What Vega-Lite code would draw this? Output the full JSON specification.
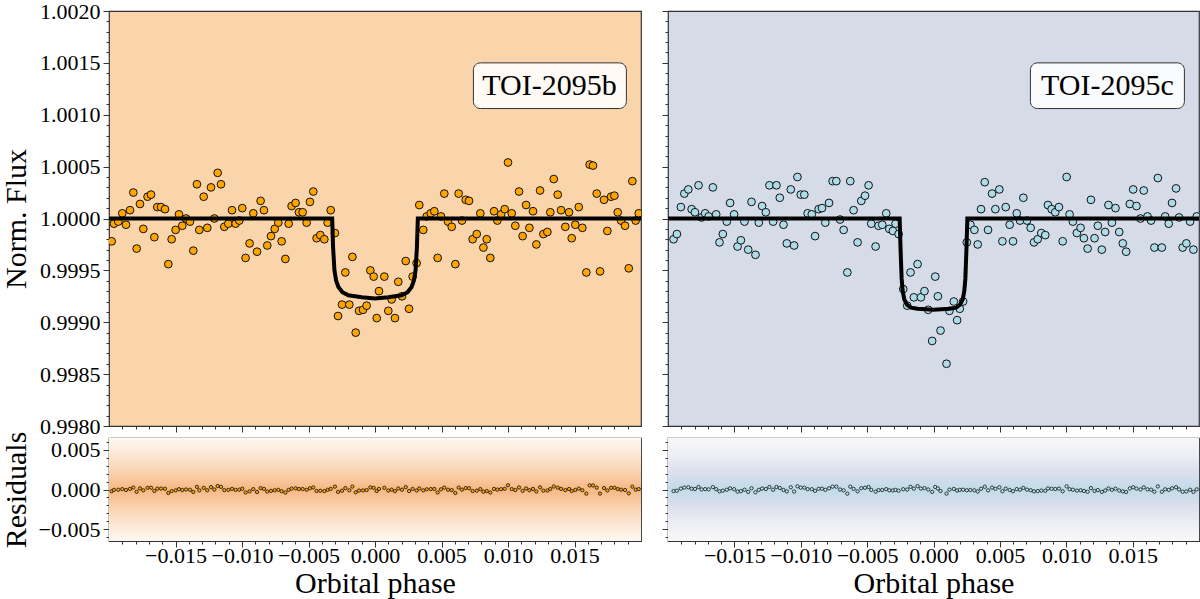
{
"$schema": "https://vega.github.io/schema/vega-lite/v6.json",
"padding": {"left": 0, "top": -1, "right": 0, "bottom": 0},
"background": "white",
"config": {
 "font": "Liberation Serif",
 "view": {"stroke": "#333", "strokeWidth": 1.2},
 "axis": {"labelFont": "Liberation Serif", "labelFontSize": 22, "labelColor": "black", "titleFont": "Liberation Serif", "titleFontSize": 30, "titleFontWeight": "normal", "titleColor": "black", "tickColor": "#333", "tickWidth": 1, "domain": false, "grid": false, "labelOverlap": false, "labelFlush": false, "labelPadding": 3}
},
"datasets": {
 "b": [
{"p":-0.0198,"f":0.99978,"r":-0.00022},{"p":-0.01963,"f":0.99995,"r":-0.00005},{"p":-0.0193,"f":0.99997,"r":-0.00003},{"p":-0.019,"f":1.00005,"r":0.00005},{"p":-0.01872,"f":0.99994,"r":-0.00006},{"p":-0.01842,"f":1.00008,"r":0.00008},{"p":-0.01817,"f":1.00025,"r":0.00025},{"p":-0.01792,"f":0.99971,"r":-0.00029},{"p":-0.01767,"f":1.00014,"r":0.00014},{"p":-0.01742,"f":0.9999,"r":-0.0001},
{"p":-0.0171,"f":1.00021,"r":0.00021},{"p":-0.01684,"f":1.00023,"r":0.00023},{"p":-0.01659,"f":0.99982,"r":-0.00018},{"p":-0.01637,"f":1.00011,"r":0.00011},{"p":-0.01609,"f":1.00011,"r":0.00011},{"p":-0.01579,"f":1.00009,"r":0.00009},{"p":-0.01554,"f":0.99956,"r":-0.00044},{"p":-0.01529,"f":0.9998,"r":-0.0002},{"p":-0.01499,"f":0.99989,"r":-0.00011},{"p":-0.01474,"f":1.00004,"r":0.00004},
{"p":-0.01449,"f":0.99993,"r":-0.00007},{"p":-0.01421,"f":1.0,"r":0.0},{"p":-0.01391,"f":0.99997,"r":-0.00003},{"p":-0.01366,"f":0.99969,"r":-0.00031},{"p":-0.01339,"f":1.00033,"r":0.00033},{"p":-0.01321,"f":0.99989,"r":-0.00011},{"p":-0.01288,"f":1.00021,"r":0.00021},{"p":-0.01261,"f":0.99991,"r":-0.00009},{"p":-0.01233,"f":1.0003,"r":0.0003},{"p":-0.01208,"f":1.0,"r":0.0},
{"p":-0.01183,"f":1.00044,"r":0.00044},{"p":-0.01158,"f":1.00033,"r":0.00033},{"p":-0.01133,"f":0.99992,"r":-0.00008},{"p":-0.01103,"f":0.99995,"r":-0.00005},{"p":-0.01075,"f":1.00008,"r":0.00008},{"p":-0.01048,"f":0.99995,"r":-0.00005},{"p":-0.0102,"f":0.99998,"r":-0.00002},{"p":-0.00998,"f":1.0001,"r":0.0001},{"p":-0.00973,"f":0.99962,"r":-0.00038},{"p":-0.00943,"f":0.99976,"r":-0.00024},
{"p":-0.00915,"f":1.00005,"r":0.00005},{"p":-0.00887,"f":0.99968,"r":-0.00032},{"p":-0.0086,"f":1.00017,"r":0.00017},{"p":-0.00835,"f":1.00008,"r":0.00008},{"p":-0.0081,"f":0.99974,"r":-0.00026},{"p":-0.00782,"f":0.99983,"r":-0.00017},{"p":-0.00754,"f":0.9999,"r":-0.0001},{"p":-0.00727,"f":0.99996,"r":-0.00004},{"p":-0.00702,"f":0.99978,"r":-0.00022},{"p":-0.00674,"f":0.99961,"r":-0.00039},
{"p":-0.00649,"f":0.99995,"r":-0.00005},{"p":-0.00627,"f":1.00012,"r":0.00012},{"p":-0.00597,"f":1.00015,"r":0.00015},{"p":-0.00572,"f":1.00006,"r":0.00006},{"p":-0.00544,"f":1.00006,"r":0.00006},{"p":-0.00514,"f":0.99996,"r":-0.00004},{"p":-0.00489,"f":1.00016,"r":0.00016},{"p":-0.00464,"f":1.00026,"r":0.00026},{"p":-0.00439,"f":0.99981,"r":-0.00019},{"p":-0.00411,"f":0.99984,"r":-0.00016},
{"p":-0.00381,"f":0.9998,"r":-0.0002},{"p":-0.00356,"f":0.99996,"r":-0.00004},{"p":-0.00333,"f":1.00008,"r":0.00008},{"p":-0.00301,"f":0.99986,"r":0.00036},{"p":-0.00278,"f":0.99906,"r":-0.0003},{"p":-0.00248,"f":0.99917,"r":-0.00016},{"p":-0.00223,"f":0.99948,"r":0.00018},{"p":-0.00193,"f":0.99917,"r":-0.0001},{"p":-0.0017,"f":0.99963,"r":0.00037},{"p":-0.00145,"f":0.9989,"r":-0.00035},
{"p":-0.0012,"f":0.99911,"r":-0.00013},{"p":-0.0009,"f":0.99912,"r":-0.00012},{"p":-0.00063,"f":0.99916,"r":-0.00007},{"p":-0.00035,"f":0.9995,"r":0.00027},{"p":-0.0001,"f":0.99944,"r":0.00021},{"p":0.00013,"f":0.99904,"r":-0.00019},{"p":0.0003,"f":0.9993,"r":0.00007},{"p":0.0007,"f":0.99944,"r":0.00021},{"p":0.001,"f":0.99911,"r":-0.00013},{"p":0.00125,"f":0.99922,"r":-0.00002},
{"p":0.0015,"f":0.99904,"r":-0.00021},{"p":0.00175,"f":0.99939,"r":0.00013},{"p":0.00203,"f":0.99925,"r":-0.00003},{"p":0.00231,"f":0.99959,"r":0.0003},{"p":0.00256,"f":0.99913,"r":-0.00019},{"p":0.00283,"f":0.99944,"r":0.00007},{"p":0.00313,"f":0.99957,"r":-0.00013},{"p":0.00333,"f":1.00013,"r":0.00013},{"p":0.00363,"f":0.99989,"r":-0.00011},{"p":0.00389,"f":1.00002,"r":0.00002},
{"p":0.00419,"f":1.00005,"r":0.00005},{"p":0.00446,"f":1.00007,"r":0.00007},{"p":0.00471,"f":0.99962,"r":-0.00038},{"p":0.00496,"f":1.00002,"r":0.00002},{"p":0.00521,"f":1.00024,"r":0.00024},{"p":0.00549,"f":0.99997,"r":-0.00003},{"p":0.00577,"f":0.99992,"r":-0.00008},{"p":0.00604,"f":0.99956,"r":-0.00044},{"p":0.00629,"f":1.00024,"r":0.00024},{"p":0.00654,"f":0.99998,"r":-0.00002},
{"p":0.00682,"f":1.00018,"r":0.00018},{"p":0.00707,"f":1.00017,"r":0.00017},{"p":0.00734,"f":0.9998,"r":-0.0002},{"p":0.00765,"f":0.99985,"r":-0.00015},{"p":0.00792,"f":1.00005,"r":0.00005},{"p":0.00815,"f":0.99972,"r":-0.00028},{"p":0.0084,"f":0.9998,"r":-0.0002},{"p":0.00867,"f":0.99962,"r":-0.00038},{"p":0.00895,"f":1.00007,"r":0.00007},{"p":0.0092,"f":0.99998,"r":-0.00002},
{"p":0.00948,"f":1.00004,"r":0.00004},{"p":0.00975,"f":1.00009,"r":0.00009},{"p":0.01,"f":1.00054,"r":0.00054},{"p":0.01028,"f":1.00005,"r":0.00005},{"p":0.01055,"f":0.99993,"r":-0.00007},{"p":0.01083,"f":1.00026,"r":0.00026},{"p":0.0111,"f":0.99983,"r":-0.00017},{"p":0.01136,"f":1.00013,"r":0.00013},{"p":0.01161,"f":0.99991,"r":-0.00009},{"p":0.01188,"f":1.00007,"r":0.00007},
{"p":0.01213,"f":0.99975,"r":-0.00025},{"p":0.01241,"f":1.00027,"r":0.00027},{"p":0.01266,"f":0.99985,"r":-0.00015},{"p":0.01296,"f":0.99987,"r":-0.00013},{"p":0.01318,"f":1.00006,"r":0.00006},{"p":0.01344,"f":1.00038,"r":0.00038},{"p":0.01374,"f":1.00023,"r":0.00023},{"p":0.01399,"f":1.00008,"r":0.00008},{"p":0.01431,"f":0.99992,"r":-0.00008},{"p":0.01459,"f":1.00006,"r":0.00006},
{"p":0.01479,"f":0.99981,"r":-0.00019},{"p":0.01506,"f":0.99994,"r":-0.00006},{"p":0.01532,"f":1.00011,"r":0.00011},{"p":0.01559,"f":0.99991,"r":-0.00009},{"p":0.01589,"f":0.99948,"r":-0.00052},{"p":0.01614,"f":1.00052,"r":0.00052},{"p":0.01639,"f":1.00051,"r":0.00051},{"p":0.01667,"f":1.00024,"r":0.00024},{"p":0.01692,"f":0.99949,"r":-0.00051},{"p":0.01722,"f":1.00018,"r":0.00018},
{"p":0.01747,"f":0.99988,"r":-0.00012},{"p":0.01775,"f":1.00021,"r":0.00021},{"p":0.018,"f":1.00022,"r":0.00022},{"p":0.01825,"f":1.00006,"r":0.00006},{"p":0.0185,"f":0.99998,"r":-0.00002},{"p":0.0188,"f":0.99993,"r":-0.00007},{"p":0.01908,"f":0.99952,"r":-0.00048},{"p":0.01935,"f":1.00036,"r":0.00036},{"p":0.0196,"f":0.99998,"r":-0.00002},{"p":0.01983,"f":1.00005,"r":0.00005}
 ],
 "c": [
{"p":-0.01958,"f":0.9998,"r":-0.0002},{"p":-0.01933,"f":0.99985,"r":-0.00015},{"p":-0.01903,"f":1.00011,"r":0.00011},{"p":-0.01877,"f":1.00024,"r":0.00024},{"p":-0.01847,"f":1.00028,"r":0.00028},{"p":-0.01822,"f":1.00009,"r":0.00009},{"p":-0.01797,"f":1.00006,"r":0.00006},{"p":-0.0177,"f":1.00032,"r":0.00032},{"p":-0.01747,"f":1.00001,"r":0.00001},{"p":-0.0172,"f":1.00005,"r":0.00005},
{"p":-0.01694,"f":1.00002,"r":0.00002},{"p":-0.01662,"f":1.0003,"r":0.0003},{"p":-0.01637,"f":1.00004,"r":0.00004},{"p":-0.01612,"f":0.99977,"r":-0.00023},{"p":-0.01587,"f":0.99985,"r":-0.00015},{"p":-0.01557,"f":0.99997,"r":-0.00003},{"p":-0.01532,"f":1.00015,"r":0.00015},{"p":-0.01502,"f":1.00004,"r":0.00004},{"p":-0.01476,"f":0.99973,"r":-0.00027},{"p":-0.01451,"f":0.99979,"r":-0.00021},
{"p":-0.01424,"f":0.99997,"r":-0.00003},{"p":-0.01396,"f":0.9997,"r":-0.0003},{"p":-0.01371,"f":1.00016,"r":0.00016},{"p":-0.01341,"f":0.99965,"r":-0.00035},{"p":-0.01316,"f":0.99996,"r":-0.00004},{"p":-0.01291,"f":1.00012,"r":0.00012},{"p":-0.01263,"f":1.00006,"r":0.00006},{"p":-0.01236,"f":1.00032,"r":0.00032},{"p":-0.01208,"f":0.99997,"r":-0.00003},{"p":-0.01183,"f":1.00032,"r":0.00032},
{"p":-0.01158,"f":1.0002,"r":0.0002},{"p":-0.0113,"f":0.99994,"r":-0.00006},{"p":-0.01105,"f":0.99976,"r":-0.00024},{"p":-0.01075,"f":1.00028,"r":0.00028},{"p":-0.0105,"f":0.99974,"r":-0.00026},{"p":-0.01025,"f":1.0004,"r":0.0004},{"p":-0.01,"f":1.00023,"r":0.00023},{"p":-0.00973,"f":1.00023,"r":0.00023},{"p":-0.00948,"f":1.00005,"r":0.00005},{"p":-0.00917,"f":1.00004,"r":0.00004},
{"p":-0.00892,"f":0.99983,"r":-0.00017},{"p":-0.00865,"f":1.00009,"r":0.00009},{"p":-0.0084,"f":1.0001,"r":0.0001},{"p":-0.00815,"f":0.99996,"r":-0.00004},{"p":-0.00787,"f":1.00015,"r":0.00015},{"p":-0.0076,"f":1.00036,"r":0.00036},{"p":-0.00732,"f":1.00036,"r":0.00036},{"p":-0.00704,"f":0.99999,"r":-0.00001},{"p":-0.00677,"f":0.99989,"r":-0.00011},{"p":-0.00649,"f":0.99948,"r":-0.00052},
{"p":-0.00627,"f":1.00036,"r":0.00036},{"p":-0.00602,"f":1.00008,"r":0.00008},{"p":-0.00572,"f":0.99977,"r":-0.00023},{"p":-0.00544,"f":1.00017,"r":0.00017},{"p":-0.00516,"f":1.00022,"r":0.00022},{"p":-0.00489,"f":1.00032,"r":0.00032},{"p":-0.00469,"f":0.99995,"r":-0.00005},{"p":-0.00436,"f":0.99973,"r":-0.00027},{"p":-0.00414,"f":0.99993,"r":-0.00007},{"p":-0.00386,"f":0.99994,"r":-0.00006},
{"p":-0.00356,"f":1.00005,"r":0.00005},{"p":-0.00333,"f":0.9999,"r":-0.0001},{"p":-0.00306,"f":0.99988,"r":-0.00012},{"p":-0.00286,"f":0.99995,"r":-0.00005},{"p":-0.00263,"f":0.99985,"r":-0.00015},{"p":-0.00228,"f":0.99932,"r":0.00004},{"p":-0.00198,"f":0.99916,"r":-0.00001},{"p":-0.00173,"f":0.99948,"r":0.00034},{"p":-0.00148,"f":0.99924,"r":0.00011},{"p":-0.0012,"f":0.99956,"r":0.00043},
{"p":-0.00095,"f":0.99924,"r":0.00012},{"p":-0.00068,"f":0.9993,"r":0.00018},{"p":-0.0004,"f":0.99912,"r":0.0},{"p":-0.0001,"f":0.99882,"r":-0.0003},{"p":0.00013,"f":0.99944,"r":0.00032},{"p":0.00033,"f":0.99925,"r":0.00013},{"p":0.00053,"f":0.99892,"r":-0.0002},{"p":0.00098,"f":0.9986,"r":-0.00052},{"p":0.0012,"f":0.99911,"r":-0.00002},{"p":0.00153,"f":0.9992,"r":0.00007},
{"p":0.00178,"f":0.99902,"r":-0.00013},{"p":0.00198,"f":0.99913,"r":-0.00004},{"p":0.00223,"f":0.9992,"r":-0.00003},{"p":0.00251,"f":0.99977,"r":-0.0001},{"p":0.00278,"f":0.99994,"r":-0.00006},{"p":0.00308,"f":0.99989,"r":-0.00011},{"p":0.00333,"f":0.99975,"r":-0.00025},{"p":0.00358,"f":1.00009,"r":0.00009},{"p":0.00386,"f":1.00035,"r":0.00035},{"p":0.00411,"f":0.99989,"r":-0.00011},
{"p":0.00441,"f":1.00024,"r":0.00024},{"p":0.00466,"f":1.00009,"r":0.00009},{"p":0.00496,"f":1.00028,"r":0.00028},{"p":0.00519,"f":0.99978,"r":-0.00022},{"p":0.00544,"f":1.00011,"r":0.00011},{"p":0.00574,"f":0.99994,"r":-0.00006},{"p":0.00599,"f":0.99978,"r":-0.00022},{"p":0.00627,"f":1.00005,"r":0.00005},{"p":0.00652,"f":0.99998,"r":-0.00002},{"p":0.00677,"f":1.0002,"r":0.0002},
{"p":0.00704,"f":0.99998,"r":-0.00002},{"p":0.00732,"f":0.99991,"r":-0.00009},{"p":0.00757,"f":0.99977,"r":-0.00023},{"p":0.00785,"f":0.9998,"r":-0.0002},{"p":0.00812,"f":0.99986,"r":-0.00014},{"p":0.00842,"f":0.99984,"r":-0.00016},{"p":0.00862,"f":1.00013,"r":0.00013},{"p":0.0089,"f":1.00009,"r":0.00009},{"p":0.00917,"f":1.00006,"r":0.00006},{"p":0.00945,"f":1.00011,"r":0.00011},
{"p":0.00973,"f":0.99978,"r":-0.00022},{"p":0.01003,"f":1.0004,"r":0.0004},{"p":0.01025,"f":1.00004,"r":0.00004},{"p":0.0105,"f":0.99997,"r":-0.00003},{"p":0.0108,"f":0.99986,"r":-0.00014},{"p":0.01108,"f":0.99991,"r":-0.00009},{"p":0.01133,"f":0.99981,"r":-0.00019},{"p":0.01161,"f":0.99971,"r":-0.00029},{"p":0.01186,"f":1.00018,"r":0.00018},{"p":0.01213,"f":0.99981,"r":-0.00019},
{"p":0.01238,"f":0.99993,"r":-0.00007},{"p":0.01268,"f":0.9997,"r":-0.0003},{"p":0.01293,"f":0.99987,"r":-0.00013},{"p":0.01318,"f":1.00013,"r":0.00013},{"p":0.01344,"f":0.99996,"r":-0.00004},{"p":0.01371,"f":1.0001,"r":0.0001},{"p":0.01399,"f":0.99987,"r":-0.00013},{"p":0.01426,"f":0.99976,"r":-0.00024},{"p":0.01451,"f":0.99968,"r":-0.00032},{"p":0.01479,"f":1.00014,"r":0.00014},
{"p":0.01504,"f":1.00028,"r":0.00028},{"p":0.01529,"f":1.00012,"r":0.00012},{"p":0.01559,"f":1.0,"r":0.0},{"p":0.01584,"f":1.00027,"r":0.00027},{"p":0.01612,"f":1.00002,"r":0.00002},{"p":0.01639,"f":0.99998,"r":-0.00002},{"p":0.01664,"f":0.99972,"r":-0.00028},{"p":0.0169,"f":1.00039,"r":0.00039},{"p":0.0172,"f":0.99972,"r":-0.00028},{"p":0.01745,"f":1.00002,"r":0.00002},
{"p":0.01772,"f":0.99995,"r":-0.00005},{"p":0.01797,"f":1.00015,"r":0.00015},{"p":0.01827,"f":1.00029,"r":0.00029},{"p":0.0185,"f":1.00001,"r":0.00001},{"p":0.01877,"f":0.99972,"r":-0.00028},{"p":0.01905,"f":0.99976,"r":-0.00024},{"p":0.01933,"f":0.99997,"r":-0.00003},{"p":0.01958,"f":0.9997,"r":-0.0003},{"p":0.01983,"f":1.00002,"r":0.00002}
 ],
 "mb": [
{"p":-0.02,"f":1.0},{"p":-0.00322,"f":1.0},{"p":-0.00315,"f":0.99972},{"p":-0.00305,"f":0.9995},{"p":-0.00292,"f":0.9994},{"p":-0.00275,"f":0.99934},{"p":-0.00245,"f":0.99929},{"p":-0.002,"f":0.99926},{"p":-0.0015,"f":0.99925},{"p":-0.001,"f":0.99924},{"p":0.0,"f":0.99923},
{"p":0.001,"f":0.99924},{"p":0.0015,"f":0.99925},{"p":0.002,"f":0.99926},{"p":0.00245,"f":0.99929},{"p":0.00275,"f":0.99934},{"p":0.00292,"f":0.9994},{"p":0.00305,"f":0.9995},{"p":0.00315,"f":0.99972},{"p":0.00322,"f":1.0},{"p":0.02,"f":1.0}
 ],
 "mc": [
{"p":-0.02,"f":1.0},{"p":-0.00255,"f":1.0},{"p":-0.00248,"f":0.9997},{"p":-0.0024,"f":0.99942},{"p":-0.00232,"f":0.9993},{"p":-0.0022,"f":0.99922},{"p":-0.002,"f":0.99917},{"p":-0.0017,"f":0.99914},{"p":-0.0012,"f":0.99913},{"p":0.0,"f":0.99912},
{"p":0.0012,"f":0.99913},{"p":0.0017,"f":0.99914},{"p":0.002,"f":0.99917},{"p":0.0022,"f":0.99922},{"p":0.00232,"f":0.9993},{"p":0.0024,"f":0.99942},{"p":0.00248,"f":0.9997},{"p":0.00255,"f":1.0},{"p":0.02,"f":1.0}
 ]
},
"hconcat": [
 {"vconcat": [
  {"width": 532, "height": 415, "view": {"fill": "#FAD5AB"},
   "layer": [
    {"data": {"name": "b"}, "mark": {"type": "circle", "fill": "#FFA500", "stroke": "#111", "strokeWidth": 1, "size": 60, "opacity": 1, "clip": true},
     "encoding": {
      "x": {"field": "p", "type": "quantitative", "scale": {"domain": [-0.02, 0.02], "nice": false, "zero": false},
       "axis": {"values": [-0.019,-0.018,-0.017,-0.016,-0.015,-0.014,-0.013,-0.012,-0.011,-0.01,-0.009,-0.008,-0.007,-0.006,-0.005,-0.004,-0.003,-0.002,-0.001,0,0.001,0.002,0.003,0.004,0.005,0.006,0.007,0.008,0.009,0.01,0.011,0.012,0.013,0.014,0.015,0.016,0.017,0.018,0.019], "tickCount": 500, "labels": false, "title": null, "labelOverlap": false,
        "tickSize": {"condition": {"test": "abs(datum.value*200-round(datum.value*200))<0.01", "value": 6}, "value": 3}}},
      "y": {"field": "f", "type": "quantitative", "scale": {"domain": [0.998, 1.002], "nice": false, "zero": false},
       "axis": {"values": [0.998,0.9981,0.9982,0.9983,0.9984,0.9985,0.9986,0.9987,0.9988,0.9989,0.999,0.9991,0.9992,0.9993,0.9994,0.9995,0.9996,0.9997,0.9998,0.9999,1,1.0001,1.0002,1.0003,1.0004,1.0005,1.0006,1.0007,1.0008,1.0009,1.001,1.0011,1.0012,1.0013,1.0014,1.0015,1.0016,1.0017,1.0018,1.0019,1.002], "tickCount": 500,
        "labelExpr": "abs(datum.value*2000-round(datum.value*2000))<0.01 ? format(datum.value,'.4f') : ''", "labelOverlap": false, "labelFlush": false,
        "tickSize": {"condition": {"test": "abs(datum.value*2000-round(datum.value*2000))<0.01", "value": 6}, "value": 3},
        "title": "Norm. Flux", "titleAngle": 270, "titleX": -84, "titleY": 207.5, "titleAlign": "center", "titleBaseline": "alphabetic"}}
     }},
    {"data": {"name": "mb"}, "mark": {"type": "line", "color": "black", "strokeWidth": 4, "clip": true},
     "encoding": {"x": {"field": "p", "type": "quantitative"}, "y": {"field": "f", "type": "quantitative"}}},
    {"data": {"values": [{}]}, "mark": {"type": "rect", "cornerRadius": 7, "fill": "white", "fillOpacity": 0.88, "stroke": "#333", "strokeWidth": 1},
     "encoding": {"x": {"datum": 0.0074, "type": "quantitative"}, "x2": {"datum": 0.0189}, "y": {"datum": 1.0015, "type": "quantitative"}, "y2": {"datum": 1.00106}}},
    {"data": {"values": [{}]}, "mark": {"type": "text", "text": "TOI-2095b", "font": "Liberation Serif", "fontSize": 30, "align": "center", "baseline": "middle", "color": "black"},
     "encoding": {"x": {"datum": 0.01312, "type": "quantitative"}, "y": {"datum": 1.00128, "type": "quantitative"}}}
   ]},
  {"width": 532, "height": 103, "view": {"fill": "white"},
   "layer": [
    {"data": {"name": "b"}, "mark": {"type": "circle", "fill": "#FFA500", "stroke": "#111", "strokeWidth": 0.8, "size": 11, "opacity": 1, "clip": true},
     "encoding": {
      "x": {"field": "p", "type": "quantitative", "scale": {"domain": [-0.02, 0.02], "nice": false, "zero": false},
       "axis": {"values": [-0.019,-0.018,-0.017,-0.016,-0.015,-0.014,-0.013,-0.012,-0.011,-0.01,-0.009,-0.008,-0.007,-0.006,-0.005,-0.004,-0.003,-0.002,-0.001,0,0.001,0.002,0.003,0.004,0.005,0.006,0.007,0.008,0.009,0.01,0.011,0.012,0.013,0.014,0.015,0.016,0.017,0.018,0.019], "tickCount": 500,
        "labelExpr": "abs(datum.value*200-round(datum.value*200))<0.01 ? format(datum.value,'.3f') : ''", "labelOverlap": false, "labelFlush": false, "labelPadding": -2,
        "tickSize": {"condition": {"test": "abs(datum.value*200-round(datum.value*200))<0.01", "value": 6}, "value": 3},
        "title": "Orbital phase", "titlePadding": 2}},
      "y": {"field": "r", "type": "quantitative", "scale": {"domain": [-0.0065, 0.0065], "nice": false, "zero": false},
       "axis": {"values": [-0.006,-0.005,-0.004,-0.003,-0.002,-0.001,0,0.001,0.002,0.003,0.004,0.005,0.006], "tickCount": 500,
        "labelExpr": "abs(datum.value*200-round(datum.value*200))<0.01 ? format(datum.value,'.3f') : ''", "labelOverlap": false, "labelFlush": false,
        "tickSize": {"condition": {"test": "abs(datum.value*200-round(datum.value*200))<0.01", "value": 6}, "value": 3},
        "title": "Residuals", "titleAngle": 270, "titleX": -84, "titleY": 51.5, "titleAlign": "center", "titleBaseline": "alphabetic"}}
     }},
    {"data": {"values": [{}]}, "mark": {"type": "rect", "fill": {"gradient": "linear", "x1": 0, "y1": 0, "x2": 0, "y2": 1, "stops": [{"offset": 0, "color": "#FEF8F2"}, {"offset": 0.12, "color": "#FDECDC"}, {"offset": 0.25, "color": "#FBDDC2"}, {"offset": 0.38, "color": "#F9CBA3"}, {"offset": 0.5, "color": "#F6B783"}, {"offset": 0.62, "color": "#F9CBA3"}, {"offset": 0.75, "color": "#FBDDC2"}, {"offset": 0.88, "color": "#FDECDC"}, {"offset": 1, "color": "#FEF8F2"}]}},
     "encoding": {"x": {"datum": -0.02, "type": "quantitative"}, "x2": {"datum": 0.02}, "y": {"datum": -0.0065, "type": "quantitative"}, "y2": {"datum": 0.0065}}},
    {"data": {"name": "b"}, "mark": {"type": "circle", "fill": "#FFA500", "stroke": "#111", "strokeWidth": 0.8, "size": 11, "opacity": 1, "clip": true},
     "encoding": {"x": {"field": "p", "type": "quantitative"}, "y": {"field": "r", "type": "quantitative"}}}
   ]}
 ], "spacing": 12, "bounds": "flush"},
 {"vconcat": [
  {"width": 531, "height": 415, "view": {"fill": "#D6DBE8"},
   "layer": [
    {"data": {"name": "c"}, "mark": {"type": "circle", "fill": "#ADDCE8", "stroke": "#111", "strokeWidth": 1, "size": 60, "opacity": 1, "clip": true},
     "encoding": {
      "x": {"field": "p", "type": "quantitative", "scale": {"domain": [-0.02, 0.02], "nice": false, "zero": false},
       "axis": {"values": [-0.019,-0.018,-0.017,-0.016,-0.015,-0.014,-0.013,-0.012,-0.011,-0.01,-0.009,-0.008,-0.007,-0.006,-0.005,-0.004,-0.003,-0.002,-0.001,0,0.001,0.002,0.003,0.004,0.005,0.006,0.007,0.008,0.009,0.01,0.011,0.012,0.013,0.014,0.015,0.016,0.017,0.018,0.019], "tickCount": 500, "labels": false, "title": null, "labelOverlap": false,
        "tickSize": {"condition": {"test": "abs(datum.value*200-round(datum.value*200))<0.01", "value": 6}, "value": 3}}},
      "y": {"field": "f", "type": "quantitative", "scale": {"domain": [0.998, 1.002], "nice": false, "zero": false},
       "axis": {"values": [0.998,0.9981,0.9982,0.9983,0.9984,0.9985,0.9986,0.9987,0.9988,0.9989,0.999,0.9991,0.9992,0.9993,0.9994,0.9995,0.9996,0.9997,0.9998,0.9999,1,1.0001,1.0002,1.0003,1.0004,1.0005,1.0006,1.0007,1.0008,1.0009,1.001,1.0011,1.0012,1.0013,1.0014,1.0015,1.0016,1.0017,1.0018,1.0019,1.002], "tickCount": 500, "labels": false, "title": null, "labelOverlap": false,
        "tickSize": {"condition": {"test": "abs(datum.value*2000-round(datum.value*2000))<0.01", "value": 6}, "value": 3}}}
     }},
    {"data": {"name": "mc"}, "mark": {"type": "line", "color": "black", "strokeWidth": 4, "clip": true},
     "encoding": {"x": {"field": "p", "type": "quantitative"}, "y": {"field": "f", "type": "quantitative"}}},
    {"data": {"values": [{}]}, "mark": {"type": "rect", "cornerRadius": 7, "fill": "white", "fillOpacity": 0.88, "stroke": "#333", "strokeWidth": 1},
     "encoding": {"x": {"datum": 0.0073, "type": "quantitative"}, "x2": {"datum": 0.0189}, "y": {"datum": 1.0015, "type": "quantitative"}, "y2": {"datum": 1.00106}}},
    {"data": {"values": [{}]}, "mark": {"type": "text", "text": "TOI-2095c", "font": "Liberation Serif", "fontSize": 30, "align": "center", "baseline": "middle", "color": "black"},
     "encoding": {"x": {"datum": 0.0131, "type": "quantitative"}, "y": {"datum": 1.00128, "type": "quantitative"}}}
   ]},
  {"width": 531, "height": 103, "view": {"fill": "white"},
   "layer": [
    {"data": {"name": "c"}, "mark": {"type": "circle", "fill": "#C4E4EE", "stroke": "#111", "strokeWidth": 0.8, "size": 11, "opacity": 1, "clip": true},
     "encoding": {
      "x": {"field": "p", "type": "quantitative", "scale": {"domain": [-0.02, 0.02], "nice": false, "zero": false},
       "axis": {"values": [-0.019,-0.018,-0.017,-0.016,-0.015,-0.014,-0.013,-0.012,-0.011,-0.01,-0.009,-0.008,-0.007,-0.006,-0.005,-0.004,-0.003,-0.002,-0.001,0,0.001,0.002,0.003,0.004,0.005,0.006,0.007,0.008,0.009,0.01,0.011,0.012,0.013,0.014,0.015,0.016,0.017,0.018,0.019], "tickCount": 500,
        "labelExpr": "abs(datum.value*200-round(datum.value*200))<0.01 ? format(datum.value,'.3f') : ''", "labelOverlap": false, "labelFlush": false, "labelPadding": -2,
        "tickSize": {"condition": {"test": "abs(datum.value*200-round(datum.value*200))<0.01", "value": 6}, "value": 3},
        "title": "Orbital phase", "titlePadding": 2}},
      "y": {"field": "r", "type": "quantitative", "scale": {"domain": [-0.0065, 0.0065], "nice": false, "zero": false},
       "axis": {"values": [-0.006,-0.005,-0.004,-0.003,-0.002,-0.001,0,0.001,0.002,0.003,0.004,0.005,0.006], "tickCount": 500, "labels": false, "title": null, "labelOverlap": false,
        "tickSize": {"condition": {"test": "abs(datum.value*200-round(datum.value*200))<0.01", "value": 6}, "value": 3}}}
     }},
    {"data": {"values": [{}]}, "mark": {"type": "rect", "fill": {"gradient": "linear", "x1": 0, "y1": 0, "x2": 0, "y2": 1, "stops": [{"offset": 0, "color": "#F8F8FA"}, {"offset": 0.15, "color": "#EFF0F6"}, {"offset": 0.3, "color": "#E0E2EE"}, {"offset": 0.4, "color": "#D2DCEB"}, {"offset": 0.5, "color": "#BEDDE9"}, {"offset": 0.6, "color": "#D2DCEB"}, {"offset": 0.7, "color": "#E0E2EE"}, {"offset": 0.85, "color": "#EFF0F6"}, {"offset": 1, "color": "#F8F8FA"}]}},
     "encoding": {"x": {"datum": -0.02, "type": "quantitative"}, "x2": {"datum": 0.02}, "y": {"datum": -0.0065, "type": "quantitative"}, "y2": {"datum": 0.0065}}},
    {"data": {"name": "c"}, "mark": {"type": "circle", "fill": "#C4E4EE", "stroke": "#111", "strokeWidth": 0.8, "size": 11, "opacity": 1, "clip": true},
     "encoding": {"x": {"field": "p", "type": "quantitative"}, "y": {"field": "r", "type": "quantitative"}}}
   ]}
 ], "spacing": 12, "bounds": "flush"}
],
"spacing": 18
}
